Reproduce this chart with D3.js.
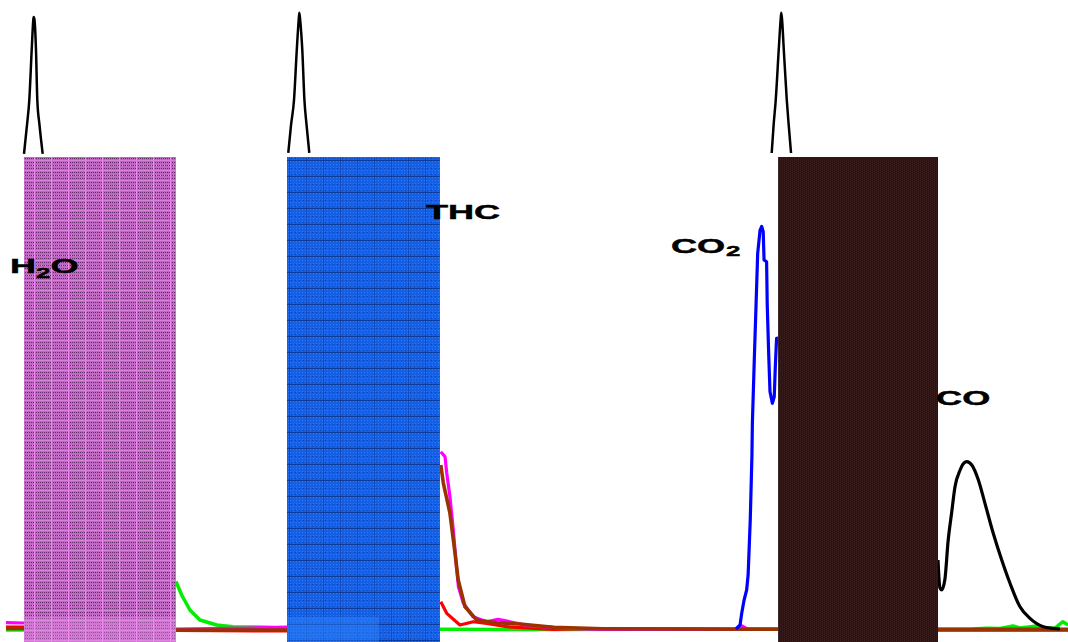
<!DOCTYPE html>
<html>
<head>
<meta charset="utf-8">
<script src="https://cdn.jsdelivr.net/npm/d3@7"></script>
<style>
  html, body { margin: 0; padding: 0; background: #fff; }
  svg { display: block; }
  .lbl { font-family: "Liberation Sans", Arial, sans-serif; font-weight: bold; fill: #000; stroke: #000; stroke-width: 0.45; }
</style>
</head>
<body>
<div id="chart"></div>
<script>
// ---- Data: time (s) vs. detector signal (a.u.); segments of each trace ----
const greenTrace = [
  [[0, -0.16], [8.5, -0.16]],
  [[80.0, 7.71], [82.7, 5.51], [86.6, 3.08], [91.3, 1.46], [99.2, 0.65], [106.9, 0.37], [122.7, 0.28], [132.3, 0.08]],
  [[204.3, -0.05], [257.5, -0.08], [300, -0.05], [363.5, -0.05]],
  [[438.8, -0.05], [455, 0.0], [461.7, 0.11], [468.0, 0.08], [474.1, 0.49], [477.4, 0.16], [485.3, 0.49], [489.2, 0.08], [493.9, 0.16], [497.6, 1.18], [500, 0.65]]
];
const magentaTrace = [
  [[0, 1.02], [8.5, 0.97]],
  [[80.0, 0.0], [113.5, 0.16], [132.3, 0.32]],
  [[204.7, 28.74], [206.7, 27.93], [207.5, 25.28], [209.0, 21.44], [210.6, 16.05], [211.9, 10.70], [213.0, 6.86], [215.3, 4.21], [219.9, 1.99], [226.3, 1.18], [231.6, 1.57], [237.3, 1.18], [246.7, 0.49], [265.5, 0.11], [281.1, -0.08], [345.0, -0.05], [346.5, 0.49], [349.0, 0.0], [363.5, 0.0]],
  [[438.8, -0.24], [500, -0.24]]
];
const redTrace = [
  [[0, 0.32], [8.5, 0.32]],
  [[80.0, -0.24], [132.3, -0.32]],
  [[204.7, 4.42], [207.5, 2.54], [213.7, 0.65], [220.0, 1.18], [226.3, 0.92], [235.7, 0.37], [257.5, -0.05], [281.1, 0.08], [363.5, -0.05]]
];
const brownTrace = [
  [[0, 0.08], [8.5, 0.08]],
  [[80.0, -0.16], [132.3, -0.16]],
  [[204.7, 26.58], [205.9, 23.66], [209.0, 18.80], [211.4, 12.32], [212.9, 7.94], [216.1, 3.61], [221.6, 1.46], [231.0, 1.02], [242.0, 0.81], [257.7, 0.28], [281.1, 0.03], [363.5, -0.05]],
  [[438.8, -0.05], [500, -0.05]]
];
const co2Trace = [
  [[343.7, 0.0], [345.6, 0.65], [346.4, 2.59], [347.5, 4.70], [348.7, 6.32], [349.4, 8.75], [350.4, 17.67], [351.2, 28.20], [351.4, 33.34], [352.3, 43.60], [353.2, 53.32], [353.9, 60.89], [355.0, 64.59], [355.8, 65.24], [356.5, 64.39], [356.9, 59.81], [358.1, 59.53], [358.4, 52.51], [359.1, 44.41], [359.7, 38.46], [360.8, 36.58], [361.7, 37.65], [362.2, 42.51], [362.8, 47.12], [363.5, 47.16]]
];
const coTrace = [
  [[438.8, 11.18], [439.7, 6.65], [440.5, 6.32], [442.0, 7.94], [443.6, 14.42], [445.2, 18.80], [446.8, 23.06], [449.2, 25.77], [450.6, 26.74], [452.3, 27.12], [454.7, 26.58], [457.8, 24.15], [460.9, 20.37], [464.8, 15.51], [468.8, 11.18], [472.7, 7.41], [477.4, 3.61], [482.1, 1.73], [488.4, 0.37], [493.1, 0.11], [496.2, 0.0]]
];
// Sharp injection spikes above each window
const spikeTraces = [
  [[8.47, 76.99], [9.89, 81.69], [10.97, 85.74], [12.10, 93.84], [12.85, 98.70], [13.04, 99.19], [13.42, 98.70], [14.12, 93.84], [14.74, 85.74], [15.77, 81.69], [17.28, 76.99]],
  [[132.9, 77.15], [134.2, 81.69], [135.6, 85.74], [136.9, 93.84], [137.8, 98.70], [138.1, 99.89], [138.5, 98.70], [139.5, 93.84], [140.5, 85.74], [141.5, 81.69], [142.8, 77.15]],
  [[360.5, 77.15], [361.4, 81.69], [362.4, 85.74], [363.8, 93.84], [364.7, 98.70], [365.0, 99.89], [365.4, 98.70], [366.2, 93.84], [367.6, 85.74], [368.5, 81.69], [369.6, 77.15]]
];
// Detector windows (time ranges) and their top level
const windowStart = [8.47, 132.3, 363.5];
const windowEnd = [80.0, 204.3, 438.8];
const windowTop = 76.5;
// Species labels
const labelNames = ["H2O", "THC", "CO2", "CO"];
const labelTime = [1.9, 197.7, 313.1, 437.9];
const labelSignal = [57.7, 66.45, 60.94, 36.3];

// ---- Drawing ----
const W = 1068, H = 642;
const svg = d3.select("#chart").append("svg").attr("width", W).attr("height", H);
svg.append("rect").attr("width", W).attr("height", H).attr("fill", "#fff");

const x = d3.scaleLinear().domain([0, 500]).range([6, 1068]);
const y = d3.scaleLinear().domain([0, 100]).range([629, 12]);
const line = d3.line().x(d => x(d[0])).y(d => y(d[1]));
const smoothLine = d3.line().x(d => x(d[0])).y(d => y(d[1])).curve(d3.curveMonotoneX);

const defs = svg.append("defs");

// Pink textured fill
const pPink = defs.append("pattern").attr("id", "patPink").attr("patternUnits", "userSpaceOnUse")
  .attr("width", 17).attr("height", 10);
pPink.append("rect").attr("width", 17).attr("height", 10).attr("fill", "#bf68c2");
for (let i = 2; i < 17; i += 2) for (let j = 2; j < 10; j += 3)
  pPink.append("rect").attr("x", i).attr("y", j).attr("width", 1).attr("height", 1).attr("fill", "#4a1e50").attr("opacity", 0.8);
for (let i = 3; i < 17; i += 4)
  pPink.append("rect").attr("x", i).attr("y", 5).attr("width", 1).attr("height", 1).attr("fill", "#e890ea");
pPink.append("rect").attr("x", 0).attr("y", 0).attr("width", 1).attr("height", 10).attr("fill", "#f884f8");
pPink.append("rect").attr("x", 0).attr("y", 0).attr("width", 17).attr("height", 1).attr("fill", "#d880dc");

// Blue textured fill
const pBlue = defs.append("pattern").attr("id", "patBlue").attr("patternUnits", "userSpaceOnUse")
  .attr("width", 17).attr("height", 16);
pBlue.append("rect").attr("width", 17).attr("height", 16).attr("fill", "#155fe4");
for (let i = 1; i < 17; i += 3) for (let j = 1; j < 16; j += 3)
  pBlue.append("rect").attr("x", i).attr("y", j).attr("width", 1).attr("height", 1).attr("fill", "#3a84ff").attr("opacity", 0.7);
for (let i = 2; i < 17; i += 4) for (let j = 8; j < 16; j += 6)
  pBlue.append("rect").attr("x", i).attr("y", j).attr("width", 1).attr("height", 1).attr("fill", "#0b3390").attr("opacity", 0.7);
pBlue.append("rect").attr("x", 0).attr("y", 0).attr("width", 1).attr("height", 16).attr("fill", "#0d3c9e").attr("opacity", 0.55);
pBlue.append("rect").attr("x", 0).attr("y", 0).attr("width", 17).attr("height", 1).attr("fill", "#0a2c80").attr("opacity", 0.75);

// Dark brown textured fill
const pBrown = defs.append("pattern").attr("id", "patBrown").attr("patternUnits", "userSpaceOnUse")
  .attr("width", 16).attr("height", 16);
pBrown.append("rect").attr("width", 16).attr("height", 16).attr("fill", "#291313");
for (let i = 0; i < 16; i += 2) for (let j = (i % 4 === 0 ? 0 : 1); j < 16; j += 2)
  pBrown.append("rect").attr("x", i).attr("y", j).attr("width", 1).attr("height", 1).attr("fill", "#4a2424").attr("opacity", 0.7);

// Traces along the baseline and their tails
const traces = [
  { segs: greenTrace, color: "#00ee00", w: 3.5, gen: line },
  { segs: redTrace, color: "#ff0000", w: 3.2, gen: line },
  { segs: magentaTrace, color: "#ff00ff", w: 3.2, gen: line },
  { segs: brownTrace, color: "#993300", w: 3.6, gen: line },
  { segs: co2Trace, color: "#0000ff", w: 3.2, gen: line },
  { segs: coTrace, color: "#000000", w: 3.2, gen: smoothLine }
];
traces.forEach(t => {
  svg.append("g").selectAll("path").data(t.segs).join("path")
    .attr("d", t.gen).attr("fill", "none").attr("stroke", t.color)
    .attr("stroke-width", t.w).attr("stroke-linejoin", "round");
});

// Spikes
svg.append("g").selectAll("path").data(spikeTraces).join("path")
  .attr("d", smoothLine).attr("fill", "none").attr("stroke", "#000")
  .attr("stroke-width", 2.5).attr("stroke-linejoin", "round");

// Detector windows
const fills = ["url(#patPink)", "url(#patBlue)", "url(#patBrown)"];
svg.append("g").selectAll("rect").data(windowStart).join("rect")
  .attr("x", (d, i) => x(d))
  .attr("y", y(windowTop))
  .attr("width", (d, i) => x(windowEnd[i]) - x(d))
  .attr("height", H - y(windowTop))
  .attr("fill", (d, i) => fills[i]);

// lighter band at the foot of the first two windows
svg.append("rect").attr("x", x(windowStart[0])).attr("y", y(2))
  .attr("width", x(windowEnd[0]) - x(windowStart[0])).attr("height", H - y(2))
  .attr("fill", "#f296f2").attr("opacity", 0.35);
svg.append("rect").attr("x", x(windowStart[1])).attr("y", y(2))
  .attr("width", (x(windowEnd[1]) - x(windowStart[1])) * 0.6).attr("height", H - y(2))
  .attr("fill", "#2f84ff").attr("opacity", 0.45);

// Labels
const sx = 1.72;
labelNames.forEach((name, i) => {
  const g = svg.append("g")
    .attr("transform", `translate(${x(labelTime[i])},${y(labelSignal[i])}) scale(${sx},1)`);
  const t = g.append("text").attr("class", "lbl").attr("font-size", 21);
  if (name === "H2O") {
    t.append("tspan").text("H");
    t.append("tspan").attr("font-size", 15).attr("dy", 5).text("2");
    t.append("tspan").attr("dy", -5).text("O");
  } else if (name === "CO2") {
    t.append("tspan").text("CO");
    t.append("tspan").attr("font-size", 15).attr("dy", 3).attr("dx", 0.5).text("2");
  } else {
    t.text(name);
  }
});
</script>
</body>
</html>
